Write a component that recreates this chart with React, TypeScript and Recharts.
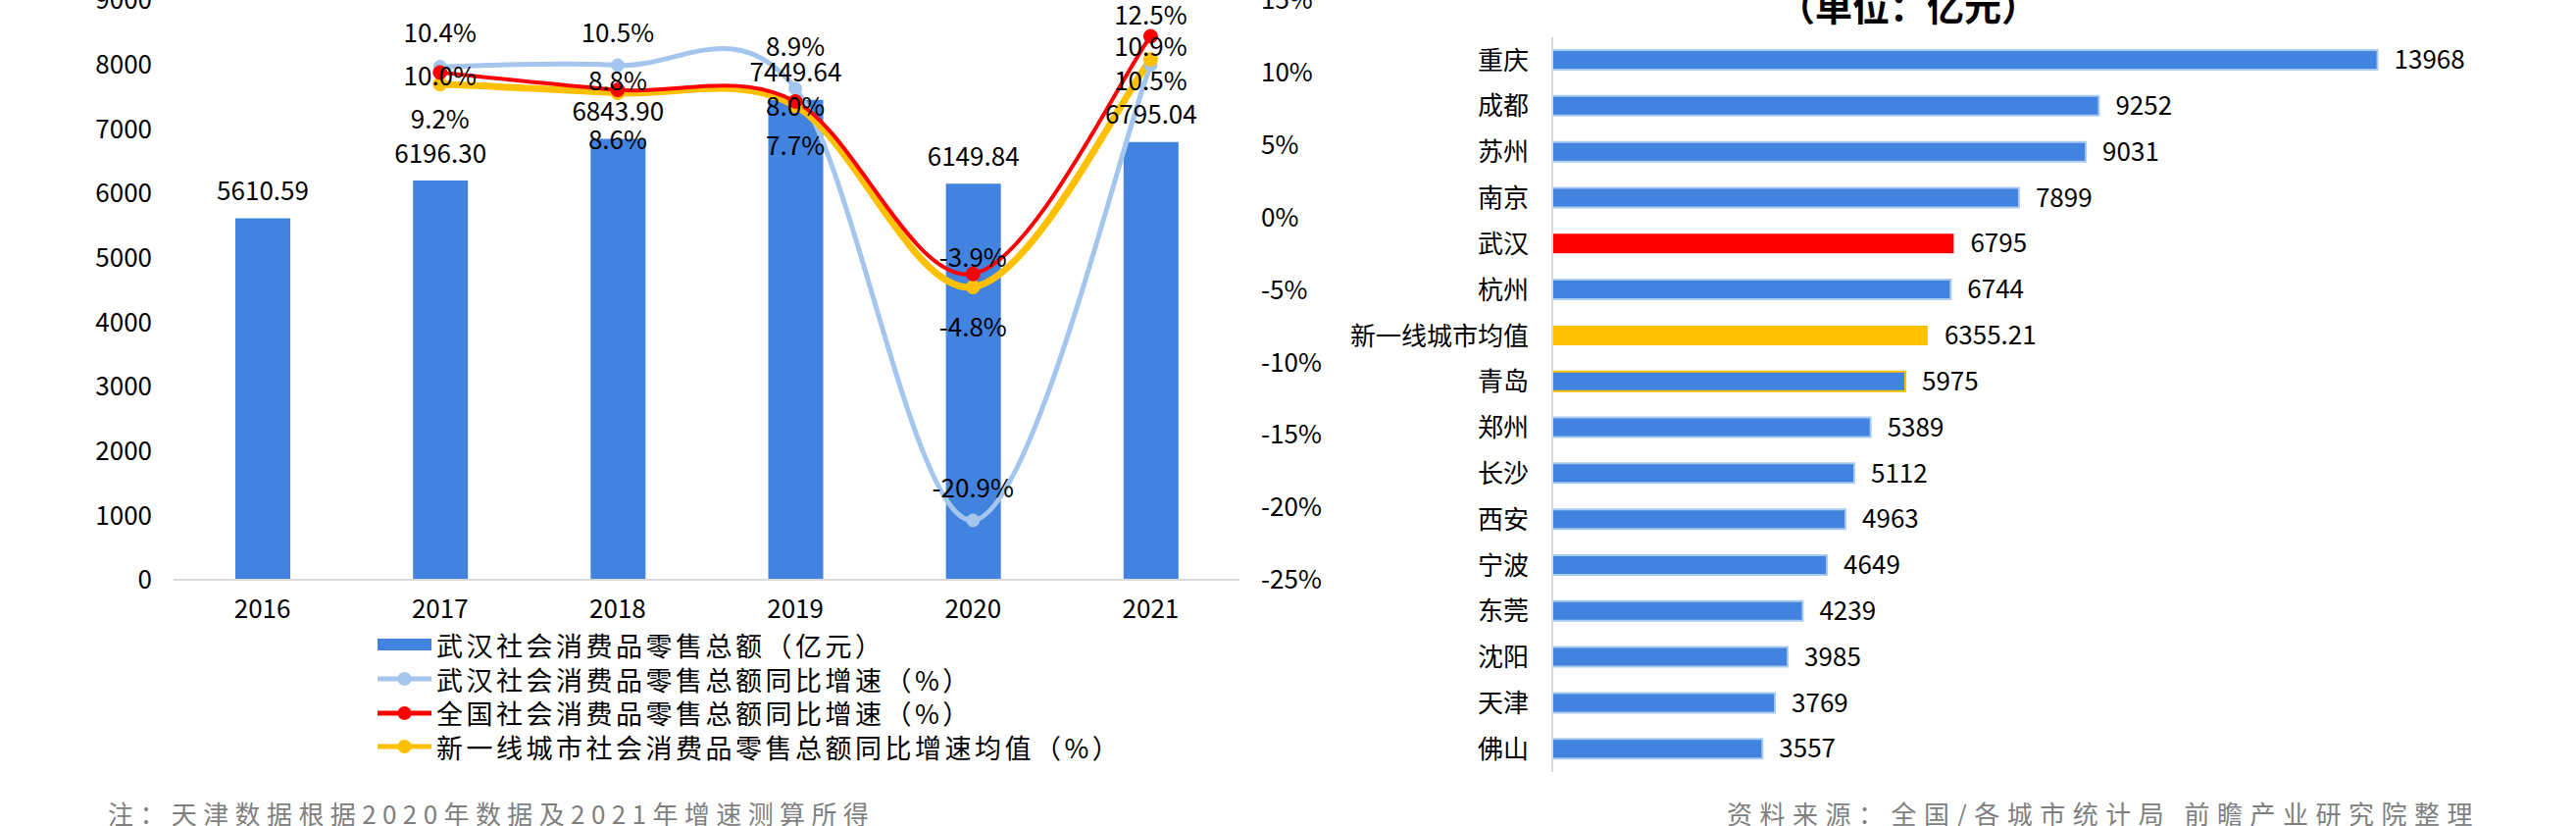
import React from "react";
import {
  Bar,
  BarChart,
  Cell,
  ComposedChart,
  LabelList,
  Legend,
  Line,
  XAxis,
  YAxis,
} from "recharts";

// left chart: Wuhan retail sales + growth rates
const YEARS = ["2016", "2017", "2018", "2019", "2020", "2021"];
const WUHAN_SALES = [5610.59, 6196.3, 6843.9, 7449.64, 6149.84, 6795.04];
const WUHAN_GROWTH = [null, 10.4, 10.5, 8.9, -20.9, 10.5];
const NATIONAL_GROWTH = [null, 10.0, 8.8, 8.0, -3.9, 12.5];
const NEW_TIER1_GROWTH = [null, 9.2, 8.6, 7.7, -4.8, 10.9];
const SALES_TICKS = [0, 1000, 2000, 3000, 4000, 5000, 6000, 7000, 8000, 9000];
const GROWTH_TICKS = [-25, -20, -15, -10, -5, 0, 5, 10, 15];

const SERIES_NAMES = [
  "武汉社会消费品零售总额（亿元）",
  "武汉社会消费品零售总额同比增速（%）",
  "全国社会消费品零售总额同比增速（%）",
  "新一线城市社会消费品零售总额同比增速均值（%）",
];

// right chart: city ranking
const CITIES = [
  "重庆",
  "成都",
  "苏州",
  "南京",
  "武汉",
  "杭州",
  "新一线城市均值",
  "青岛",
  "郑州",
  "长沙",
  "西安",
  "宁波",
  "东莞",
  "沈阳",
  "天津",
  "佛山",
];
const CITY_SALES = [
  13968, 9252, 9031, 7899, 6795, 6744, 6355.21, 5975, 5389, 5112, 4963, 4649,
  4239, 3985, 3769, 3557,
];
const CITY_AXIS_MAX = 16000;

const TITLE = "（单位：亿元）";
const NOTE = "注：天津数据根据2020年数据及2021年增速测算所得";
const SOURCE = "资料来源：全国/各城市统计局 前瞻产业研究院整理";

const FONT = '"Noto Sans CJK SC", "Liberation Sans", sans-serif';
const BLUE = "#4183DE";
const LIGHT_BLUE = "#A4C6EE";
const RED = "#FF0000";
const YELLOW = "#FFC000";
const AXIS_GRAY = "#D9D9D9";

// manual label nudges (px from the point), like the hand-placed labels in the source
const WUHAN_LABEL_DY = [0, -36, -35, -45, -35, 14];
const NATIONAL_LABEL_DY = [0, 2, -11, 3, -19, -23];
const NEW_TIER1_LABEL_DY = [0, 34, 46, 39, 39, -15];

const trendData = YEARS.map((year, i) => ({
  year,
  sales: WUHAN_SALES[i],
  wuhan: WUHAN_GROWTH[i],
  national: NATIONAL_GROWTH[i],
  newTier1: NEW_TIER1_GROWTH[i],
}));

const cityData = CITIES.map((city, i) => ({ city, value: CITY_SALES[i] }));

// Excel-style smoothed line (Catmull-Rom as cubic beziers)
function excelSmooth(context: any) {
  let pts: number[][] = [];
  return {
    areaStart() {},
    areaEnd() {},
    lineStart() {
      pts = [];
    },
    point(x: number, y: number) {
      pts.push([+x, +y]);
    },
    lineEnd() {
      const n = pts.length;
      if (!n) return;
      context.moveTo(pts[0][0], pts[0][1]);
      if (n === 1) {
        context.lineTo(pts[0][0], pts[0][1]);
        return;
      }
      for (let i = 0; i < n - 1; i++) {
        const p0 = pts[Math.max(0, i - 1)];
        const p1 = pts[i];
        const p2 = pts[i + 1];
        const p3 = pts[Math.min(n - 1, i + 2)];
        context.bezierCurveTo(
          p1[0] + (p2[0] - p0[0]) / 6,
          p1[1] + (p2[1] - p0[1]) / 6,
          p2[0] - (p3[0] - p1[0]) / 6,
          p2[1] - (p3[1] - p1[1]) / 6,
          p2[0],
          p2[1],
        );
      }
    },
  };
}

function percentLabel(offsets: number[]) {
  return function PercentLabel(props: any) {
    const { x, y, value, index } = props;
    if (value === null || value === undefined) return null;
    return (
      <text
        x={x}
        y={y + (offsets[index] ?? 0)}
        textAnchor="middle"
        dominantBaseline="central"
        fontSize={26}
        fill="#000"
      >
        {`${Number(value).toFixed(1)}%`}
      </text>
    );
  };
}

function SalesLabel(props: any) {
  const { x, y, width, value } = props;
  return (
    <text
      x={x + width / 2}
      y={y - 30}
      textAnchor="middle"
      dominantBaseline="central"
      fontSize={26}
      fill="#000"
    >
      {Number(value).toFixed(2)}
    </text>
  );
}

const LEGEND_SWATCHES = [
  { kind: "bar", color: BLUE },
  { kind: "line", color: LIGHT_BLUE },
  { kind: "line", color: RED },
  { kind: "line", color: YELLOW },
];

function TrendLegend() {
  return (
    <div style={{ fontFamily: FONT, fontSize: 27, letterSpacing: 3.5, color: "#000" }}>
      {SERIES_NAMES.map((name, i) => {
        const sw = LEGEND_SWATCHES[i];
        return (
          <div
            key={name}
            style={{ display: "flex", alignItems: "center", height: 34.7, whiteSpace: "nowrap" }}
          >
            <svg width={55} height={34} style={{ marginRight: 5 }}>
              {sw.kind === "bar" ? (
                <rect x={0} y={11} width={55} height={12} fill={sw.color} />
              ) : (
                <>
                  <line x1={0} y1={17} x2={55} y2={17} stroke={sw.color} strokeWidth={5} />
                  <circle cx={27.5} cy={17} r={7} fill={sw.color} />
                </>
              )}
            </svg>
            <span>{name}</span>
          </div>
        );
      })}
    </div>
  );
}

function cityFill(city: string) {
  if (city === "武汉") return RED;
  if (city === "新一线城市均值") return YELLOW;
  return BLUE;
}

function cityStroke(city: string) {
  if (city === "武汉" || city === "新一线城市均值") return "none";
  if (city === "青岛") return YELLOW;
  return "#A9CBF0";
}

function TrendChart() {
  return (
    <ComposedChart
      width={1400}
      height={842}
      data={trendData}
      margin={{ top: 0, right: 0, bottom: 0, left: 0 }}
    >
      <XAxis
        dataKey="year"
        height={251}
        tickSize={0}
        tickMargin={21}
        tickLine={false}
        axisLine={{ stroke: AXIS_GRAY, strokeWidth: 2 }}
        tick={{ fontSize: 26, fill: "#000" }}
      />
      <YAxis
        yAxisId="left"
        width={177}
        domain={[0, 9000]}
        ticks={SALES_TICKS}
        interval={0}
        tickSize={0}
        tickMargin={22}
        axisLine={false}
        tickLine={false}
        tick={{ fontSize: 26, fill: "#000" }}
      />
      <YAxis
        yAxisId="right"
        orientation="right"
        width={136}
        domain={[-25, 15]}
        ticks={GROWTH_TICKS}
        interval={0}
        tickSize={0}
        tickMargin={22}
        axisLine={false}
        tickLine={false}
        tick={{ fontSize: 26, fill: "#000" }}
        tickFormatter={(v) => `${v}%`}
      />
      <Legend
        layout="vertical"
        align="center"
        verticalAlign="middle"
        wrapperStyle={{ left: 385, top: 640, width: 900 }}
        content={() => <TrendLegend />}
      />
      <Bar
        yAxisId="left"
        dataKey="sales"
        name={SERIES_NAMES[0]}
        fill={BLUE}
        barSize={56}
        isAnimationActive={false}
      >
        <LabelList dataKey="sales" content={SalesLabel} />
      </Bar>
      <Line
        yAxisId="right"
        dataKey="wuhan"
        name={SERIES_NAMES[1]}
        type={excelSmooth as any}
        stroke={LIGHT_BLUE}
        strokeWidth={5}
        dot={{ r: 6.5, fill: LIGHT_BLUE, stroke: LIGHT_BLUE, strokeWidth: 1 }}
        activeDot={false}
        isAnimationActive={false}
      >
        <LabelList dataKey="wuhan" content={percentLabel(WUHAN_LABEL_DY)} />
      </Line>
      <Line
        yAxisId="right"
        dataKey="newTier1"
        name={SERIES_NAMES[3]}
        type={excelSmooth as any}
        stroke={YELLOW}
        strokeWidth={7}
        dot={{ r: 7, fill: YELLOW, stroke: YELLOW, strokeWidth: 1 }}
        activeDot={false}
        isAnimationActive={false}
      >
        <LabelList dataKey="newTier1" content={percentLabel(NEW_TIER1_LABEL_DY)} />
      </Line>
      <Line
        yAxisId="right"
        dataKey="national"
        name={SERIES_NAMES[2]}
        type={excelSmooth as any}
        stroke={RED}
        strokeWidth={4}
        dot={{ r: 7, fill: RED, stroke: RED, strokeWidth: 1 }}
        activeDot={false}
        isAnimationActive={false}
      >
        <LabelList dataKey="national" content={percentLabel(NATIONAL_LABEL_DY)} />
      </Line>
    </ComposedChart>
  );
}

function CityChart() {
  return (
    <BarChart
      width={1327}
      height={842}
      data={cityData}
      layout="vertical"
      margin={{ top: 38, right: 80, bottom: 55, left: 0 }}
      barCategoryGap={0}
    >
      <XAxis type="number" domain={[0, CITY_AXIS_MAX]} hide />
      <YAxis
        type="category"
        dataKey="city"
        width={283}
        interval={0}
        tickSize={0}
        tickMargin={24}
        tickLine={false}
        axisLine={{ stroke: AXIS_GRAY, strokeWidth: 2 }}
        tick={{ fontSize: 26, fill: "#000" }}
      />
      <Bar dataKey="value" barSize={20} isAnimationActive={false}>
        {cityData.map((d) => (
          <Cell
            key={d.city}
            fill={cityFill(d.city)}
            stroke={cityStroke(d.city)}
            strokeWidth={2}
          />
        ))}
        <LabelList
          dataKey="value"
          position="right"
          offset={17}
          fontSize={26}
          fill="#000"
        />
      </Bar>
    </BarChart>
  );
}

export default function App() {
  return (
    <div
      style={{
        position: "absolute",
        left: 0,
        top: 0,
        width: 2627,
        height: 842,
        overflow: "hidden",
        background: "#fff",
        fontFamily: FONT,
      }}
    >
      <div style={{ position: "absolute", left: 0, top: 0 }}>
        <TrendChart />
      </div>
      <div style={{ position: "absolute", left: 1300, top: 0 }}>
        <CityChart />
      </div>
      <svg
        width={2627}
        height={842}
        style={{ position: "absolute", left: 0, top: 0, pointerEvents: "none" }}
      >
        <text
          x={1946}
          y={21}
          textAnchor="middle"
          fontSize={38}
          fontWeight="bold"
          fill="#000"
        >
          {TITLE}
        </text>
        <text x={110} y={840} fontSize={26} letterSpacing={6.4} fill="#7F7F7F">
          {NOTE}
        </text>
        <text
          x={2529}
          y={840}
          textAnchor="end"
          fontSize={26}
          letterSpacing={7.5}
          fill="#7F7F7F"
        >
          {SOURCE}
        </text>
      </svg>
    </div>
  );
}
